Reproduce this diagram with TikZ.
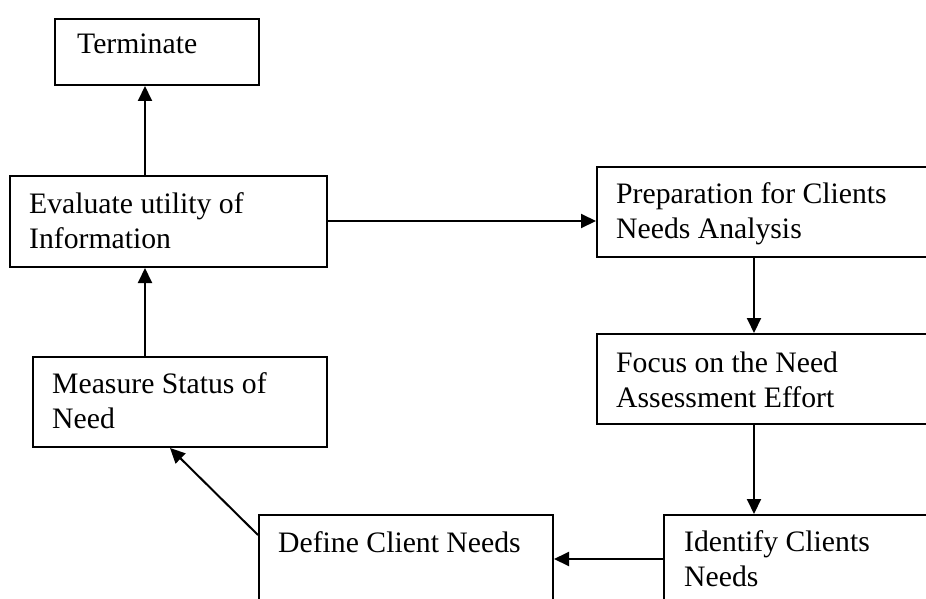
\documentclass[tikz,border=0pt]{standalone}
\usepackage{fontspec}
\setmainfont{Liberation Serif}
\usetikzlibrary{arrows.meta}
\newcommand{\boxtext}[1]{\parbox[t]{300pt}{\raggedright #1}}
\begin{document}
\begin{tikzpicture}[x=1pt,y=-1pt,
  box/.style={draw, line width=2pt, inner sep=0pt, anchor=north west},
  txt/.style={inner sep=0pt, anchor=base west, font=\fontsize{29.7}{35}\selectfont},
  arr/.style={line width=2pt, -{Triangle[length=15pt,width=14pt]}}]
\useasboundingbox (0,0) rectangle (926,599);
\clip (0,0) rectangle (926,599);
\fill[white] (0,0) rectangle (926,599);
% boxes
\node[box, minimum width=204pt, minimum height=66pt] (term) at (54,18) {};
\node[box, minimum width=317pt, minimum height=91pt] (eval) at (9,175) {};
\node[box, minimum width=294pt, minimum height=90pt] (meas) at (32,356) {};
\node[box, minimum width=294pt, minimum height=90pt] (def) at (258,514) {};
\node[box, minimum width=360pt, minimum height=90pt] (prep) at (596,166) {};
\node[box, minimum width=360pt, minimum height=90pt] (focus) at (596,333) {};
\node[box, minimum width=300pt, minimum height=90pt] (ident) at (663,514) {};
% texts
\node[txt] (termT) at ([xshift=23pt,yshift=-36pt]term.north west) {\boxtext{Terminate}};
\node[txt] (evalT) at ([xshift=20pt,yshift=-38pt]eval.north west) {\boxtext{Evaluate utility of\\Information}};
\node[txt] (measT) at ([xshift=20pt,yshift=-37pt]meas.north west) {\boxtext{Measure Status of\\Need}};
\node[txt] (defT) at ([xshift=20pt,yshift=-38pt]def.north west) {\boxtext{Define Client Needs}};
\node[txt] (prepT) at ([xshift=20pt,yshift=-37pt]prep.north west) {\boxtext{Preparation for Clients\\Needs Analysis}};
\node[txt] (focusT) at ([xshift=20pt,yshift=-39pt]focus.north west) {\boxtext{Focus on the Need\\Assessment Effort}};
\node[txt] (identT) at ([xshift=21pt,yshift=-37pt]ident.north west) {\boxtext{Identify Clients\\Needs}};
% connectors
\draw[arr] ([xshift=136pt]eval.north west) -- ([xshift=136pt]eval.north west |- term.south);
\draw[arr] ([xshift=113pt]meas.north west) -- ([xshift=113pt]meas.north west |- eval.south);
\draw[arr] ([yshift=-46pt]eval.north east) -- ([yshift=-46pt]eval.north east -| prep.west);
\draw[arr] ([xshift=158pt]prep.south west) -- ([xshift=158pt]prep.south west |- focus.north);
\draw[arr] ([xshift=158pt]focus.south west) -- ([xshift=158pt]focus.south west |- ident.north);
\draw[arr] ([yshift=-45pt]ident.north west) -- ([yshift=-45pt]ident.north west -| def.east);
\draw[arr] ([yshift=-21pt]def.north west) -- ([xshift=138pt]meas.south west);
\end{tikzpicture}
\end{document}
